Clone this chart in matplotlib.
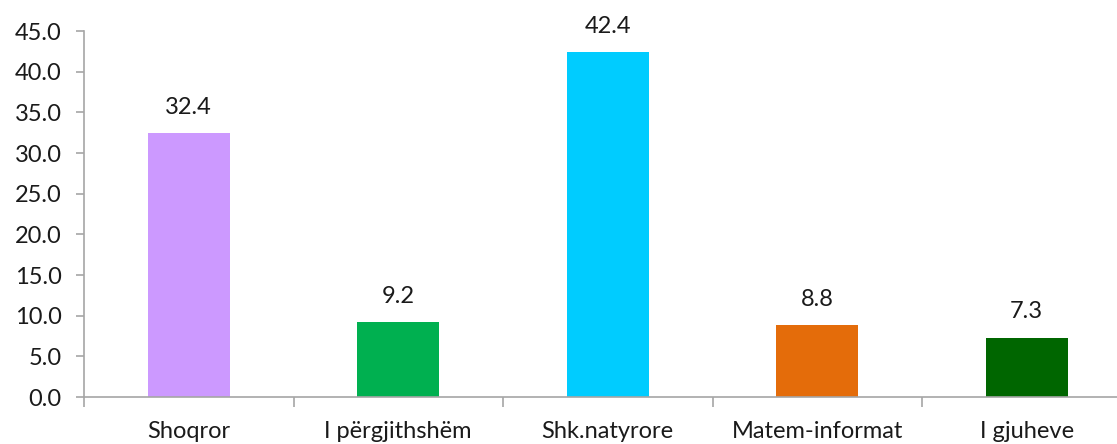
import numpy as np
import matplotlib.pyplot as plt

categories = ["Shoqror", "I përgjithshëm", "Shk.natyrore", "Matem-informat", "I gjuheve"]
values = [32.4, 9.2, 42.4, 8.8, 7.3]
colors = ["#CC99FF", "#00B050", "#00CCFF", "#E46C0A", "#006600"]

plt.rcParams['font.family'] = ['Lato', 'DejaVu Sans']

fig = plt.figure(figsize=(11.17, 4.44), dpi=100)
ax = fig.add_axes([84 / 1117, 47 / 444, 1047.5 / 1117, 366 / 444])
x = np.arange(len(categories))
ax.bar(x, values, width=0.39, color=colors)

for xi, v in zip(x, values):
    ax.annotate(f"{v:.1f}", (xi, v), xytext=(0, 11), textcoords="offset points",
                ha="center", va="bottom", fontsize=17, color="#1a1a1a")

ax.set_xlim(-0.5, len(categories) - 0.5)
ax.set_ylim(0, 45)
ax.set_yticks(np.arange(0, 46, 5))
ax.set_yticklabels([f"{t:.1f}" for t in np.arange(0, 46, 5)])
ax.set_xticks(x)
ax.set_xticklabels(categories)
ax.set_xticks(np.arange(-0.5, len(categories), 1), minor=True)

for s in ["top", "right"]:
    ax.spines[s].set_visible(False)
for s in ["left", "bottom"]:
    ax.spines[s].set_color("#A6A6A6")
    ax.spines[s].set_linewidth(1.2)

ax.tick_params(axis="y", length=6, color="#A6A6A6", width=1.2, labelsize=17, labelcolor="#1a1a1a", pad=10)
ax.tick_params(axis="x", which="major", length=0, labelsize=17, labelcolor="#1a1a1a", pad=17)
ax.tick_params(axis="x", which="minor", length=7, color="#A6A6A6", width=1.2)

fig.savefig("out.png", dpi=100)
